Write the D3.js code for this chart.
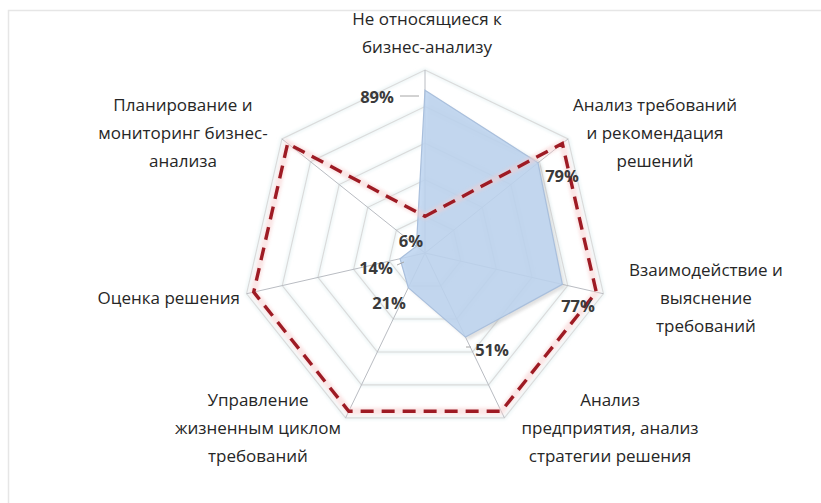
<!DOCTYPE html>
<html>
<head>
<meta charset="utf-8">
<script src="https://cdn.jsdelivr.net/npm/d3@7"></script>
<style>
  html, body { margin: 0; padding: 0; background: #ffffff; }
  svg { display: block; }
</style>
</head>
<body>
<svg id="chart" width="821" height="503"></svg>
<script>
// Categories, clockwise from the top axis
const categories = [
  "Не относящиеся к бизнес-анализу",
  "Анализ требований и рекомендация решений",
  "Взаимодействие и выяснение требований",
  "Анализ предприятия, анализ стратегии решения",
  "Управление жизненным циклом требований",
  "Оценка решения",
  "Планирование и мониторинг бизнес-анализа"
];
// Wrapped lines of each axis title
const categoryLines = [
  ["Не относящиеся к", "бизнес-анализу"],
  ["Анализ требований", "и рекомендация", "решений"],
  ["Взаимодействие и", "выяснение", "требований"],
  ["Анализ", "предприятия, анализ", "стратегии решения"],
  ["Управление", "жизненным циклом", "требований"],
  ["Оценка решения"],
  ["Планирование и", "мониторинг бизнес-", "анализа"]
];
// Share of time per area (filled series)
const actualValues = [0.89, 0.79, 0.77, 0.51, 0.21, 0.14, 0.06];
// Target profile (dashed series)
const targetValues = [0.20, 0.96, 0.96, 0.96, 0.96, 0.96, 0.96];
// Radial grid levels
const gridTicks = [0.2, 0.4, 0.6, 0.8, 1.0];

const svg = d3.select("#chart");
const W = 821, H = 503;
const cx = 425, cy = 253, R = 183;

// frame
svg.append("rect").attr("x", 8.5).attr("y", 10.5).attr("width", W).attr("height", H)
  .attr("fill", "none").attr("stroke", "#e6e6e6").attr("stroke-width", 1.5);

const n = categories.length;
const angle = d3.scaleLinear().domain([0, n]).range([0, 2 * Math.PI]);
const r = d3.scaleLinear().domain([0, 1]).range([0, R]);

const g = svg.append("g").attr("transform", `translate(${cx},${cy})`);

const defs = svg.append("defs");
const blur = defs.append("filter").attr("id", "soft").attr("x", "-10%").attr("y", "-10%")
  .attr("width", "120%").attr("height", "120%");
blur.append("feGaussianBlur").attr("stdDeviation", 1.4);
const shadow = defs.append("filter").attr("id", "shadow").attr("x", "-10%").attr("y", "-10%")
  .attr("width", "130%").attr("height", "130%");
shadow.append("feGaussianBlur").attr("stdDeviation", 1.8);

const radialLine = d3.lineRadial()
  .angle((d, i) => angle(i))
  .radius(d => r(d))
  .curve(d3.curveLinearClosed);

// grid rings (with a faint halo)
const ringG = g.append("g");
gridTicks.forEach(t => {
  const vals = d3.range(n).map(() => t);
  ringG.append("path").attr("d", radialLine(vals))
    .attr("fill", "none").attr("stroke", "#eef6f7").attr("stroke-width", 4)
    .attr("filter", "url(#soft)");
  ringG.append("path").attr("d", radialLine(vals))
    .attr("fill", "none").attr("stroke", "#dadada").attr("stroke-width", 1.1);
});

// spokes
const spokeG = g.append("g");
d3.range(n).forEach(i => {
  const a = angle(i);
  spokeG.append("line")
    .attr("x1", 0).attr("y1", 0)
    .attr("x2", r(1) * Math.sin(a)).attr("y2", -r(1) * Math.cos(a))
    .attr("stroke", "#b9bcc2").attr("stroke-width", 1);
});

// filled series with shadow
g.append("path").attr("d", radialLine(actualValues))
  .attr("transform", "translate(3,3)")
  .attr("fill", "#a8a8a8").attr("opacity", 0.35).attr("filter", "url(#shadow)");
g.append("path").attr("d", radialLine(actualValues))
  .attr("fill", "#bcd3f0").attr("fill-opacity", 0.85)
  .attr("stroke", "#a9bfdc").attr("stroke-width", 1.2);

// dashed target series with glow
g.append("path").attr("d", radialLine(targetValues))
  .attr("fill", "none").attr("stroke", "#f6cccc").attr("stroke-width", 7)
  .attr("opacity", 0.5).attr("filter", "url(#soft)");
g.append("path").attr("d", radialLine(targetValues))
  .attr("fill", "none").attr("stroke", "#9e1b24").attr("stroke-width", 3.4)
  .attr("stroke-dasharray", "13,8").attr("stroke-linejoin", "miter");

// axis titles
const titlePos = [
  { x: 427, y: 25, anchor: "middle" },
  { x: 655, y: 111, anchor: "middle" },
  { x: 706, y: 276, anchor: "middle" },
  { x: 610, y: 406, anchor: "middle" },
  { x: 258, y: 406, anchor: "middle" },
  { x: 240, y: 304, anchor: "end" },
  { x: 183, y: 111, anchor: "middle" }
];
const lh = 28;
const titles = svg.append("g")
  .attr("font-family", "'Open Sans', 'Noto Sans', sans-serif")
  .attr("font-size", 17).attr("fill", "#262626");
categoryLines.forEach((lines, i) => {
  const t = titles.append("text")
    .attr("x", titlePos[i].x).attr("y", titlePos[i].y)
    .attr("text-anchor", titlePos[i].anchor);
  lines.forEach((ln, j) => {
    t.append("tspan").attr("x", titlePos[i].x).attr("dy", j === 0 ? 0 : lh).text(ln);
  });
});

// data labels
const fmt = d3.format(".0%");
const labelPos = [
  { x: 377, y: 103, lead: [[400, 96], [419, 96]] },
  { x: 562, y: 182 },
  { x: 578, y: 312 },
  { x: 492, y: 356, lead: [[471, 347], [466, 347]] },
  { x: 389, y: 309 },
  { x: 376, y: 274, lead: [[397, 265], [404, 262]] },
  { x: 411, y: 247 }
];
const labels = svg.append("g")
  .attr("font-family", "'Open Sans', 'Noto Sans', sans-serif")
  .attr("font-size", 16.5).attr("font-weight", "bold").attr("fill", "#3a3a3a");
actualValues.forEach((v, i) => {
  const p = labelPos[i];
  if (p.lead) {
    labels.append("line")
      .attr("x1", p.lead[0][0]).attr("y1", p.lead[0][1])
      .attr("x2", p.lead[1][0]).attr("y2", p.lead[1][1])
      .attr("stroke", "#a6a6a6").attr("stroke-width", 1);
  }
  labels.append("text").attr("x", p.x).attr("y", p.y)
    .attr("text-anchor", "middle").text(fmt(v));
});
</script>
</body>
</html>
